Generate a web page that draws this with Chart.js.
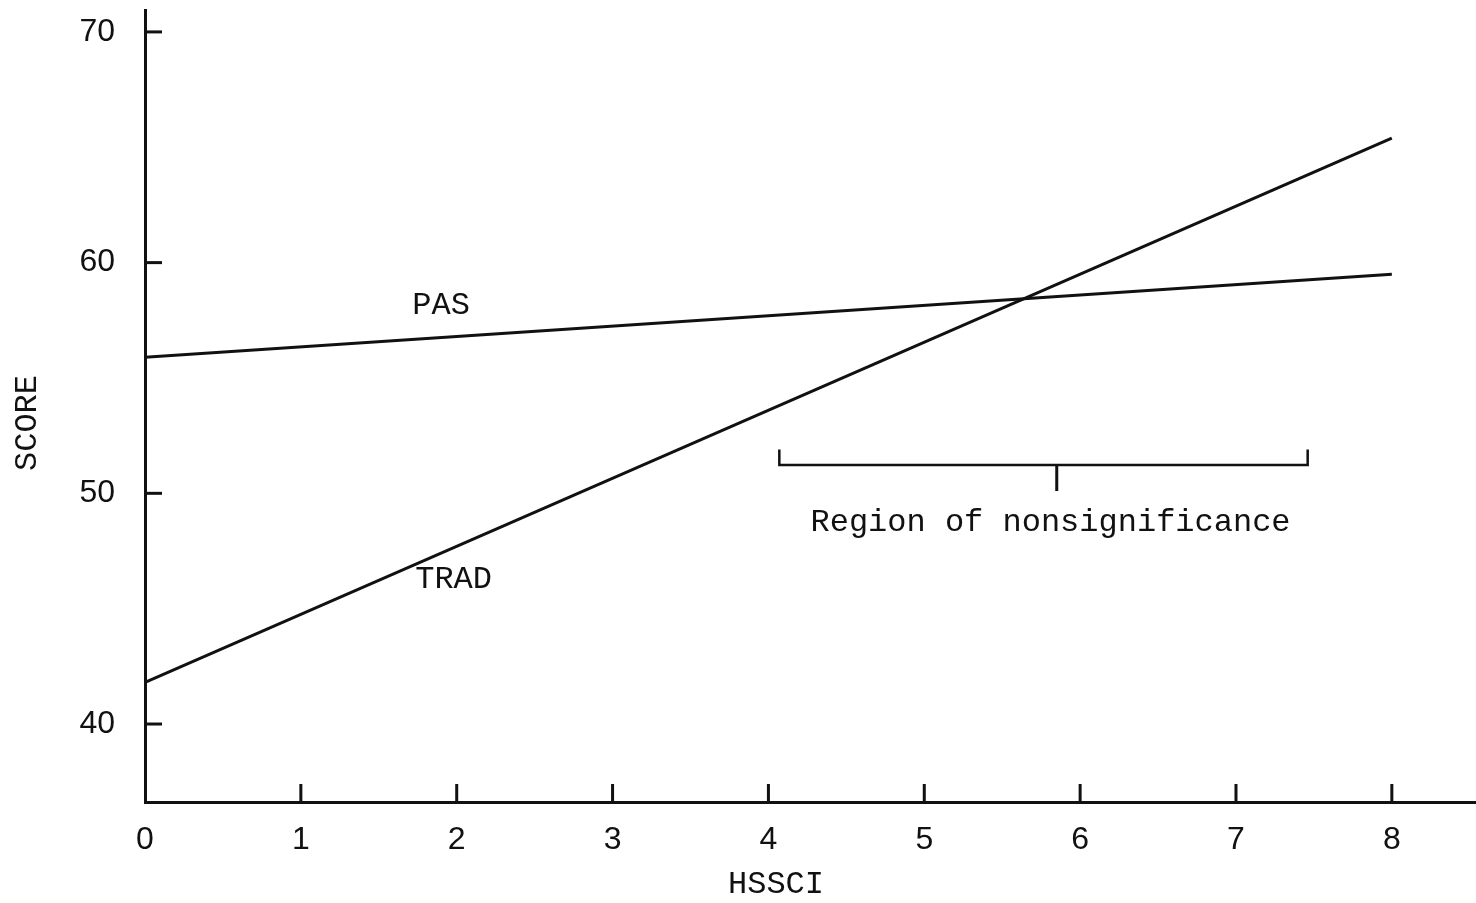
<!DOCTYPE html>
<html>
<head>
<meta charset="utf-8">
<script src="https://cdn.jsdelivr.net/npm/chart.js@4.4.1/dist/chart.umd.min.js"></script>
<style>
html,body{margin:0;padding:0;background:#fff;}
#wrap{width:1476px;height:903px;position:relative;}
</style>
</head>
<body>
<div id="wrap"><canvas id="c" width="1476" height="903"></canvas></div>
<script>
// ---- data ----
const xTicks = [0, 1, 2, 3, 4, 5, 6, 7, 8];
const yTicks = [40, 50, 60, 70];
const hssci = [0, 8];
const pasScore = [55.9, 59.5];
const tradScore = [41.8, 65.4];
const bracketX = [4.07, 4.07, 7.46, 7.46];
const bracketY = [51.9, 51.23, 51.23, 51.9];
const bracketTickX = [5.85, 5.85];
const bracketTickY = [51.23, 50.1];
const labels = [
  {text: 'PAS', x: 1.90, y: 58.15},
  {text: 'TRAD', x: 1.98, y: 46.25},
  {text: 'Region of nonsignificance', x: 5.81, y: 48.75}
];
const xTitle = 'HSSCI';
const yTitle = 'SCORE';

const INK = '#111';
const pts = (xs, ys) => xs.map((x, i) => ({x: x, y: ys[i]}));

const decor = {
  id: 'decor',
  afterDraw(chart) {
    const ctx = chart.ctx;
    const xs = chart.scales.x, ys = chart.scales.y;
    const ca = chart.chartArea;
    ctx.save();
    ctx.strokeStyle = INK;
    ctx.lineWidth = 3;
    ctx.lineCap = 'butt';
    // y tick marks (inside)
    yTicks.forEach(v => {
      const py = ys.getPixelForValue(v);
      ctx.beginPath();
      ctx.moveTo(ca.left - 1, py);
      ctx.lineTo(ca.left + 17, py);
      ctx.stroke();
    });
    // x tick marks (upward)
    xTicks.forEach(v => {
      if (v === 0) return;
      const px = xs.getPixelForValue(v);
      ctx.beginPath();
      ctx.moveTo(px, ca.bottom + 1);
      ctx.lineTo(px, ca.bottom - 18);
      ctx.stroke();
    });
    // annotations
    ctx.fillStyle = INK;
    ctx.font = '32px "Liberation Mono", "DejaVu Sans Mono", monospace';
    ctx.textAlign = 'center';
    ctx.textBaseline = 'middle';
    labels.forEach(l => {
      ctx.fillText(l.text, xs.getPixelForValue(l.x), ys.getPixelForValue(l.y));
    });
    // axis titles
    ctx.fillText(xTitle, 776, 885);
    ctx.translate(28, 423);
    ctx.rotate(-Math.PI / 2);
    ctx.fillText(yTitle, 0, 0);
    ctx.restore();
  }
};

const lineDs = (label, data) => ({
  label: label, data: data,
  borderColor: INK, borderWidth: 3, pointRadius: 0, fill: false, tension: 0
});

new Chart(document.getElementById('c'), {
  type: 'scatter',
  data: {
    datasets: [
      Object.assign(lineDs('PAS', pts(hssci, pasScore)), {showLine: true}),
      Object.assign(lineDs('TRAD', pts(hssci, tradScore)), {showLine: true}),
      Object.assign(lineDs('bracket', pts(bracketX, bracketY)), {showLine: true, borderWidth: 2.5}),
      Object.assign(lineDs('bracketTick', pts(bracketTickX, bracketTickY)), {showLine: true, borderWidth: 3})
    ]
  },
  options: {
    responsive: false,
    animation: false,
    devicePixelRatio: 1,
    layout: {padding: {top: 10, right: 0, left: 0, bottom: 0}},
    plugins: {legend: {display: false}, tooltip: {enabled: false}},
    scales: {
      x: {
        type: 'linear', min: 0, max: 8.54,
        afterBuildTicks: s => { s.ticks = xTicks.map(v => ({value: v})); },
        afterFit: s => { s.height = 101; s.paddingLeft = 0; s.paddingRight = 0; },
        grid: {display: false},
        border: {display: true, color: INK, width: 3},
        ticks: {color: INK, padding: 11, font: {family: '"Liberation Sans", Arial, sans-serif', size: 32}, autoSkip: false, maxRotation: 0}
      },
      y: {
        type: 'linear', min: 36.62, max: 70.95,
        afterBuildTicks: s => { s.ticks = yTicks.map(v => ({value: v})); },
        afterFit: s => { s.width = 145; s.paddingTop = 0; s.paddingBottom = 0; },
        grid: {display: false},
        border: {display: true, color: INK, width: 3},
        ticks: {color: INK, padding: 22, font: {family: '"Liberation Sans", Arial, sans-serif', size: 32}}
      }
    }
  },
  plugins: [decor]
});
</script>
</body>
</html>
